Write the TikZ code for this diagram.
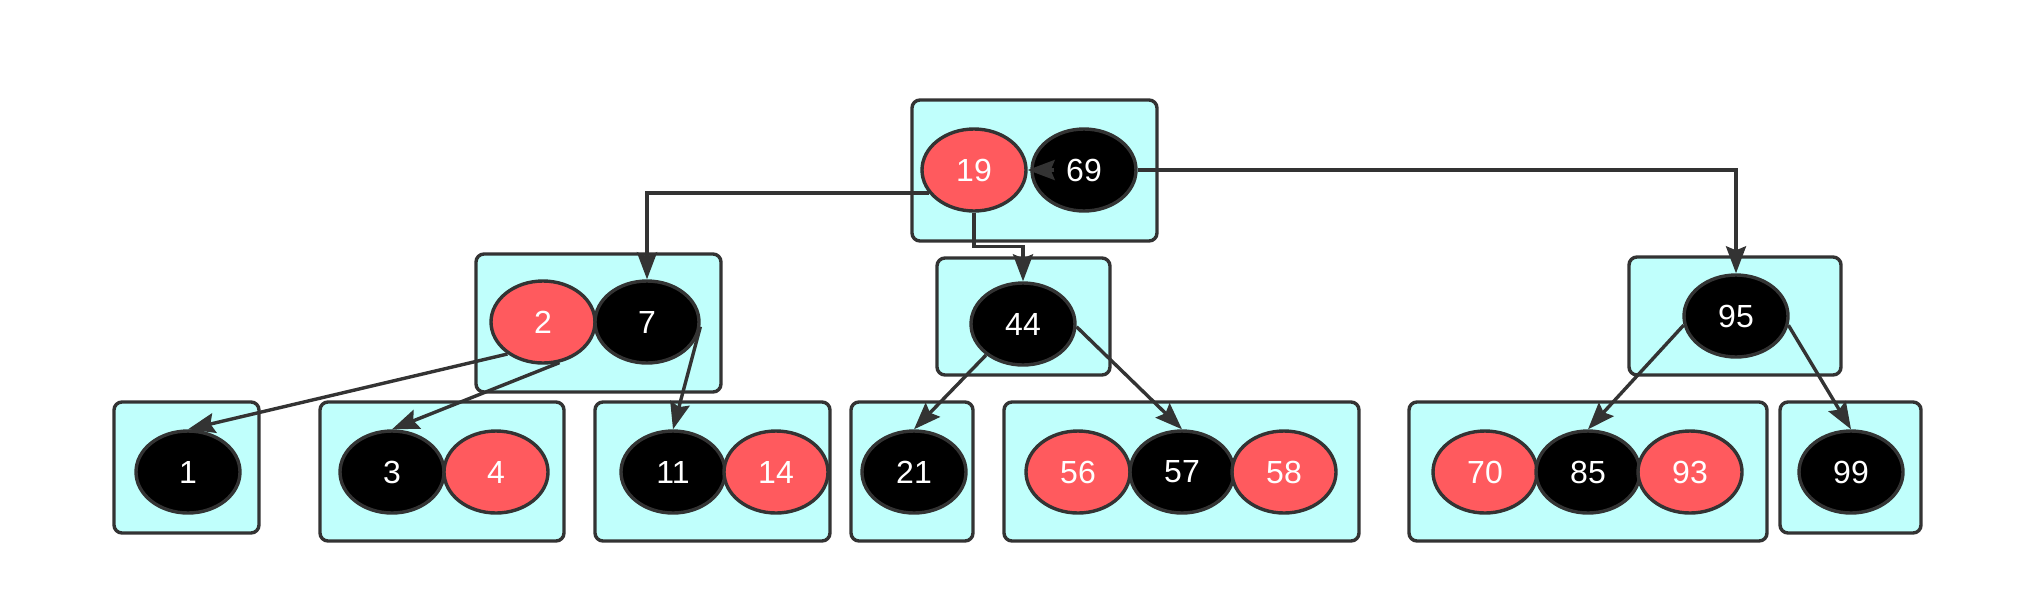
\documentclass[tikz,border=0pt]{standalone}
\usepackage{fontspec}
\setmainfont{Liberation Sans}
\usetikzlibrary{shapes.geometric, arrows.meta}

\definecolor{keyred}{RGB}{255,90,94}
\definecolor{pagecyan}{RGB}{192,255,252}
\definecolor{edgegray}{RGB}{51,51,51}

\begin{document}
\begin{tikzpicture}[x=0.5pt, y=-0.5pt,
    page/.style={draw=edgegray, line width=1.7pt, fill=pagecyan, rounded corners=4pt, inner sep=0pt},
    key/.style={ellipse, draw=edgegray, line width=1.7pt, minimum width=52pt, minimum height=41pt,
        inner sep=0pt, text=white, font=\fontsize{16}{16}\selectfont},
    redkey/.style={key, fill=keyred},
    blackkey/.style={key, fill=black},
    link/.style={draw=edgegray, line width=1.7pt, -{Stealth[length=13.5pt, width=10pt, inset=2pt]}}]
    \useasboundingbox (0,0) rectangle (2034,606);

    % pages
    \node[page, minimum width=122.5pt, minimum height=70.5pt] (p19) at (1034.5,170.5) {};
    \node[page, minimum width=122.5pt, minimum height=69pt] (p2) at (598.5,323) {};
    \node[page, minimum width=86.5pt, minimum height=58.5pt] (p44) at (1023.5,316.5) {};
    \node[page, minimum width=106pt, minimum height=59pt] (p95) at (1735,316) {};
    \node[page, minimum width=72.5pt, minimum height=65.5pt] (p1) at (186.5,467.5) {};
    \node[page, minimum width=122pt, minimum height=69.5pt] (p3) at (442,471.5) {};
    \node[page, minimum width=117.5pt, minimum height=69.5pt] (p11) at (712.5,471.5) {};
    \node[page, minimum width=61pt, minimum height=69.5pt] (p21) at (912,471.5) {};
    \node[page, minimum width=177.5pt, minimum height=69.5pt] (p56) at (1181.5,471.5) {};
    \node[page, minimum width=179pt, minimum height=69.5pt] (p70) at (1588,471.5) {};
    \node[page, minimum width=70.5pt, minimum height=65.5pt] (p99) at (1850.5,467.5) {};

    % keys
    \node[redkey] (k19) at (974,170) {19};
    \node[blackkey] (k69) at (1084,170) {69};
    \node[redkey] (k2) at (543,322) {2};
    \node[blackkey] (k7) at (647,322) {7};
    \node[blackkey] (k44) at (1023,324) {44};
    \node[blackkey] (k95) at (1736,316) {95};
    \node[blackkey] (k1) at (188,472) {1};
    \node[blackkey] (k3) at (392,472) {3};
    \node[redkey] (k4) at (496,472) {4};
    \node[blackkey] (k11) at (673,472) {11};
    \node[redkey] (k14) at (776,472) {14};
    \node[blackkey] (k21) at (914,472) {21};
    \node[redkey] (k56) at (1078,472) {56};
    \node[blackkey] (k57) at (1182,472) {57};
    \node[redkey] (k58) at (1284,472) {58};
    \node[redkey] (k70) at (1485,472) {70};
    \node[blackkey] (k85) at (1588,472) {85};
    \node[redkey] (k93) at (1690,472) {93};
    \node[blackkey] (k99) at (1851,472) {99};

    % links
    \draw[link] ([xshift=12pt]k69.west) -- (k19.east);
    \draw[link] (k19.207) -| (k7.north);
    \draw[link] (k19.south) -- ++(0,34) -| (k44.north);
    \draw[link] (k69.east) -| (k95.north);
    \draw[link] (k2.222) -- (k1.north);
    \draw[link] (k2.292) -- (k3.north);
    \draw[link] (k7.355) -- (k11.north);
    \draw[link] (k44.220) -- (k21.north);
    \draw[link] (k44.357) -- (k57.north);
    \draw[link] (k95.190) -- (k85.north);
    \draw[link] (k95.350) -- (k99.north);
\end{tikzpicture}
\end{document}
